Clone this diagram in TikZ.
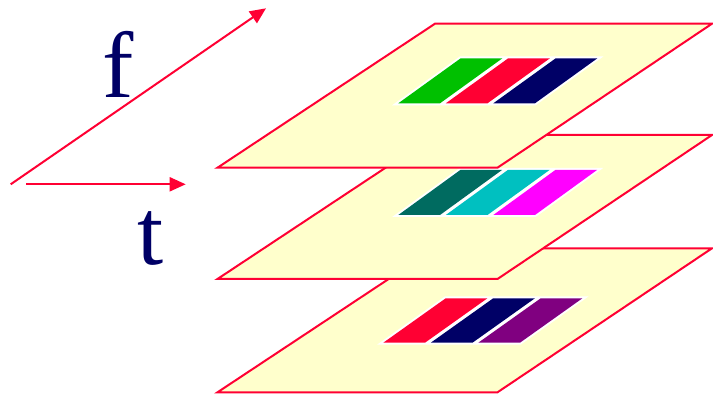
\documentclass[tikz,border=0pt]{standalone}
\usepackage{fontspec}
\setmainfont{Liberation Serif}
\usetikzlibrary{arrows.meta}

\definecolor{planefill}{HTML}{FFFFCC}
\definecolor{edgered}{HTML}{FF0033}
\definecolor{navy}{HTML}{000066}
\definecolor{bandgreen}{HTML}{00C000}
\definecolor{bandteal}{HTML}{006B60}
\definecolor{bandcyan}{HTML}{00C0C0}
\definecolor{bandmagenta}{HTML}{FF00FF}
\definecolor{bandpurple}{HTML}{800080}

\tikzset{
  plane/.style={fill=planefill, draw=edgered, line width=2pt, line join=miter},
  axis/.style={draw=edgered, line width=2pt, -{Triangle[length=16pt,width=14pt]}},
  axislabel/.style={text=navy, font=\fontsize{94}{94}\selectfont, inner sep=0pt, anchor=base}
}

% one layer of the stack, given the y of its front edge
\newcommand\layer[1]{%
  \filldraw[plane] (217.5,#1) -- (497.5,#1) -- (712,#1-144) -- (435,#1-144) -- cycle;}

% three slanted bands with a white rim:
% #1 top-left x, #2 bottom-left x, #3 top y, #4 bottom y, #5-#7 colours
\newcommand\bandset[7]{%
  \filldraw[white, line width=4pt, line join=miter]
    (#1,#3) -- (#1+2*47.5+41.7,#3) -- (#2+2*47.5+41.7,#4) -- (#2,#4) -- cycle;
  \foreach \c [count=\i from 0] in {#5,#6,#7} {
    \fill[\c] (#1+47.5*\i,#3) -- (#1+47.5*\i+41.7,#3)
      -- (#2+47.5*\i+41.7,#4) -- (#2+47.5*\i,#4) -- cycle;
  }}

\begin{document}
\begin{tikzpicture}[x=1pt,y=-1pt]
\useasboundingbox (0,0) rectangle (713,395);

% axes
\coordinate (origin) at (10.7,184.3);
\coordinate (fend) at (266,8.3);
\coordinate (tstart) at (26,184.3);
\coordinate (tend) at (185.7,184.3);
\draw[axis] (origin) -- (fend);
\draw[axis] (tstart) -- (tend);
\node[axislabel] (flabel) at (118.5,98) {f};
\node[axislabel] (tlabel) at (150.5,265) {t};

% stacked layers, back to front
\layer{392.3}
\bandset{445.7}{383.3}{298.3}{342.7}{edgered}{navy}{bandpurple}

\layer{279}
\bandset{460.3}{398.3}{170}{215}{bandteal}{bandcyan}{bandmagenta}

\layer{167.7}
\bandset{460.7}{398.3}{58.3}{103.3}{bandgreen}{edgered}{navy}
\end{tikzpicture}
\end{document}
